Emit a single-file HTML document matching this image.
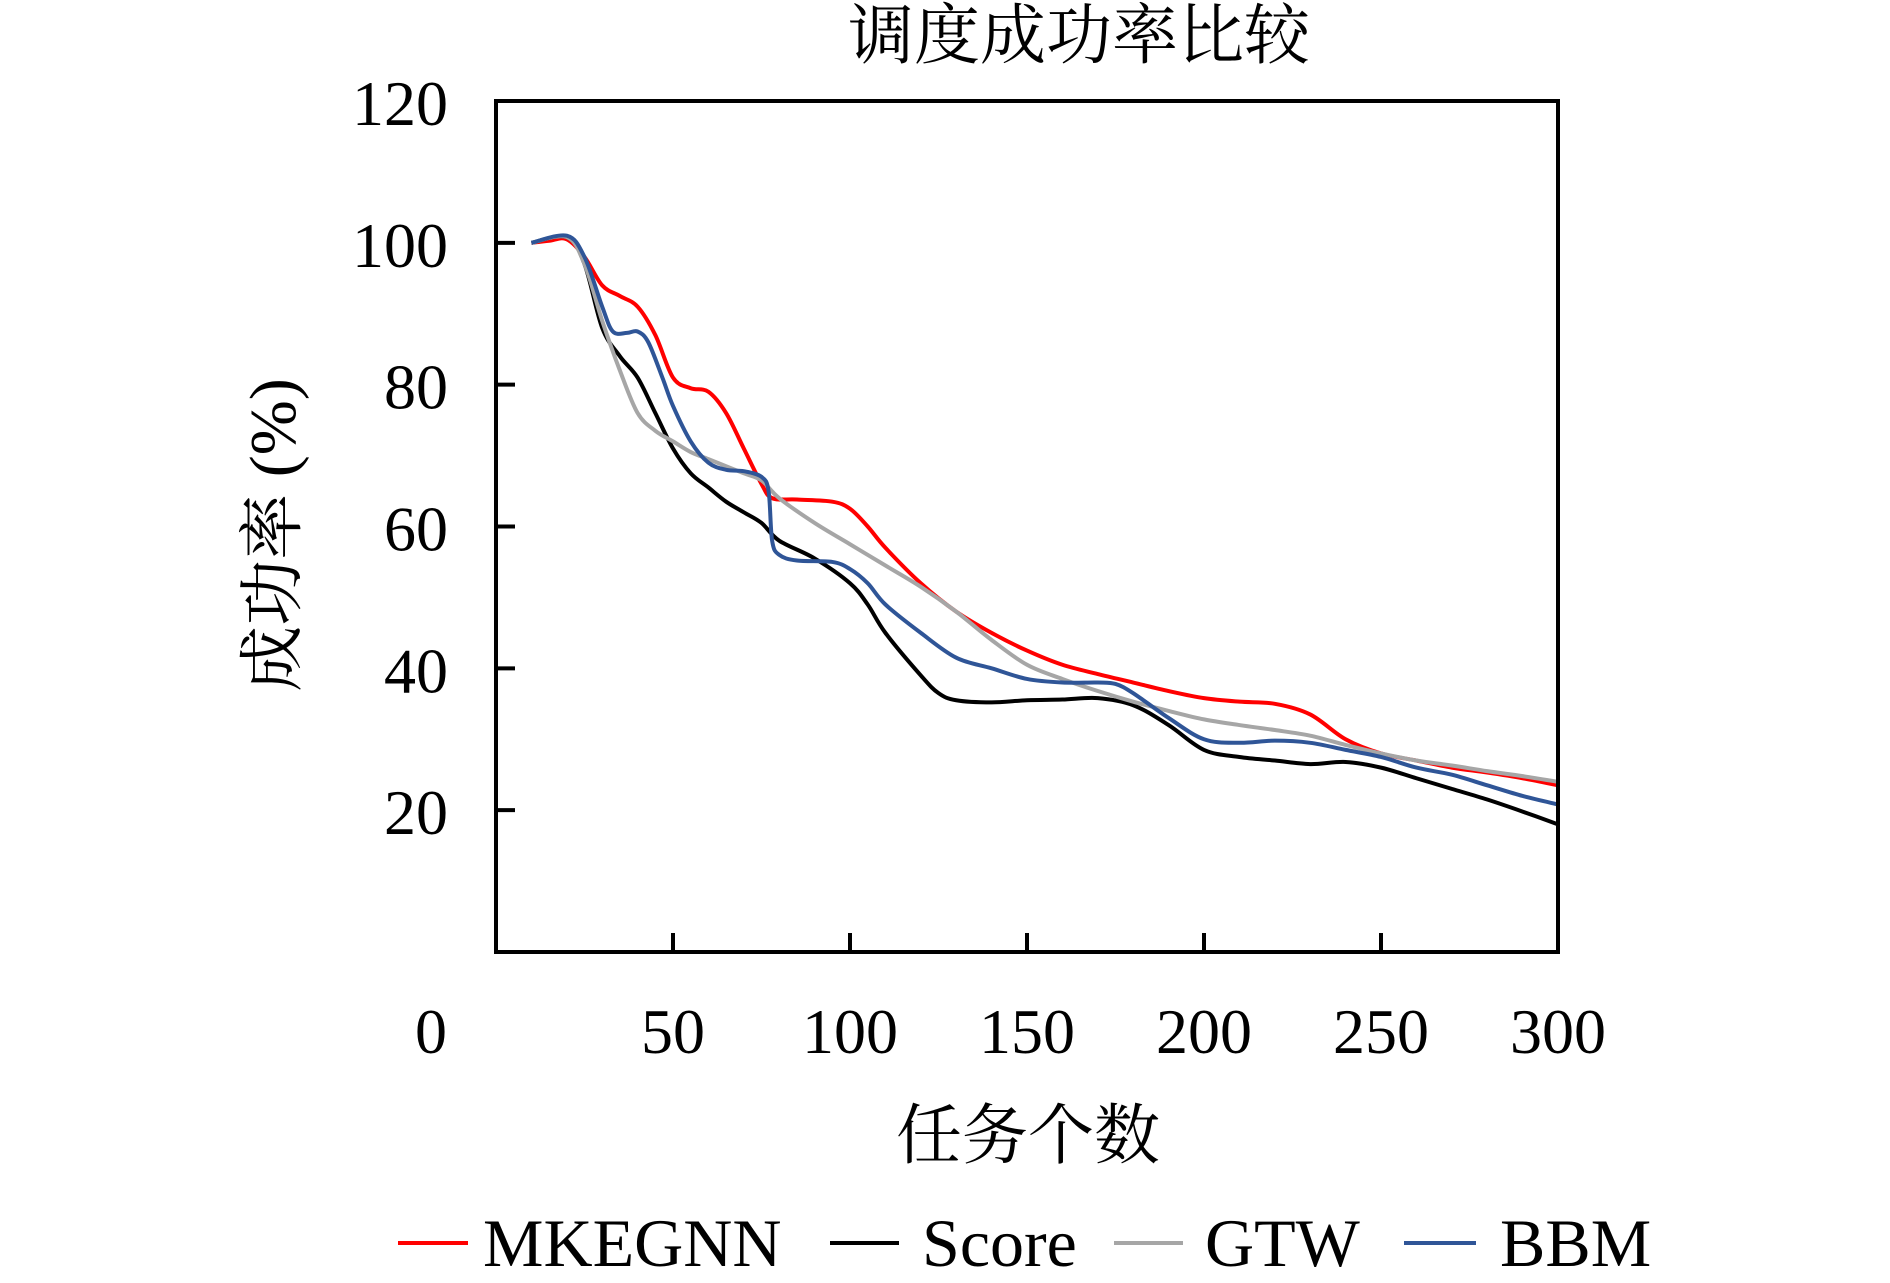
<!DOCTYPE html>
<html><head><meta charset="utf-8"><style>
html,body{margin:0;padding:0;background:#fff;}
svg{display:block;}
text{font-family:"Liberation Serif","Noto Serif CJK SC",serif;fill:#000;}
</style></head><body>
<svg id="chart" width="1890" height="1283" viewBox="0 0 1890 1283" xmlns="http://www.w3.org/2000/svg">
<text x="1079" y="58" font-size="66" text-anchor="middle">调度成功率比较</text>
<text transform="translate(295,535) rotate(-90)" font-size="66" text-anchor="middle">成功率 (%)</text>
<text x="1028" y="1158" font-size="66" text-anchor="middle">任务个数</text>
<g id="ticks"></g>
<g id="series"></g>
<rect x="496" y="101" width="1062" height="851" fill="none" stroke="#000" stroke-width="4"/>
<g id="legend"></g>
</svg>
<script>
const yTicks=[20,40,60,80,100,120];
const xTicks=[0,50,100,150,200,250,300];
const seriesNames=["MKEGNN","Score","GTW","BBM"];
const seriesColors=["#ff0000","#000000","#a6a6a6","#2f5597"];
const mkX=[10,15,20,25,30,35,40,45,50,55,60,65,70,75,78,85,95,100,105,110,120,130,140,150,160,170,180,190,200,210,220,230,240,250,260,270,280,290,300];
const mkY=[100,100.3,100.5,98,94,92.5,91,87,81,79.5,79,76,71,66,64,63.8,63.5,62.5,60,57,52,48,45,42.5,40.5,39.2,38,36.8,35.8,35.3,35,33.5,30,28,27,26,25.3,24.5,23.5];
const scX=[10,20,25,30,35,40,45,50,55,60,65,70,75,80,90,100,105,110,120,125,130,140,150,160,170,180,190,200,210,220,230,240,250,260,270,280,290,300];
const scY=[100,100.8,97,88,84,81,76,71,67.5,65.5,63.5,62,60.5,58,55.5,52,49,45,39,36.5,35.5,35.2,35.5,35.6,35.8,34.8,32,28.5,27.5,27,26.5,26.8,26,24.5,23,21.5,19.8,18];
const gtX=[10,20,25,30,35,40,45,50,55,60,65,70,75,80,90,100,110,120,130,140,150,160,170,180,190,200,210,220,230,240,250,260,270,280,290,300];
const gtY=[100,100.8,97,89,82,76,73.5,72,70.5,69.5,68.5,67.5,66.5,64,60.5,57.5,54.5,51.5,48,44,40.5,38.5,36.8,35.3,34,32.8,32,31.3,30.5,29.2,28,27,26.3,25.5,24.8,24];
const bbX=[10,20,25,30,33,37,40,43,47,50,55,60,65,70,75,77,78,80,85,95,100,105,110,120,130,140,150,160,170,175,180,190,200,210,220,230,240,250,260,270,280,290,300];
const bbY=[100,101,98,91,87.5,87.3,87.5,86,81,77,72,69,68,67.8,67,65,58,56,55.2,55,54,52,49,45,41.5,40,38.5,38,38,37.8,36.5,33,30,29.5,29.8,29.5,28.5,27.5,26,25,23.5,22,20.8];
const seriesX=[mkX,scX,gtX,bbX];
const seriesY=[mkY,scY,gtY,bbY];
const NS="http://www.w3.org/2000/svg";
function sx(v){return 496+v*(1062/300);}
function sy(v){return 952-v*(851/120);}
const tg=document.getElementById('ticks');
yTicks.forEach(v=>{
  const l=document.createElementNS(NS,'line');
  
  
  l.setAttribute('x1',496);l.setAttribute('x2',515);l.setAttribute('y1',sy(v));l.setAttribute('y2',sy(v));
  l.setAttribute('stroke','#000');l.setAttribute('stroke-width','4');tg.appendChild(l);
  const t=document.createElementNS(NS,'text');
  
  
  t.setAttribute('x',448);t.setAttribute('y',sy(v)+24);t.setAttribute('font-size','64');t.setAttribute('text-anchor','end');
  t.textContent=v;tg.appendChild(t);
});
xTicks.forEach(v=>{
  if(v>0&&v<300){
  const l=document.createElementNS(NS,'line');
  
  
  l.setAttribute('x1',sx(v));l.setAttribute('x2',sx(v));l.setAttribute('y1',952);l.setAttribute('y2',933);
  l.setAttribute('stroke','#000');l.setAttribute('stroke-width','4');tg.appendChild(l);}
  const t=document.createElementNS(NS,'text');
  
  
  t.setAttribute('x',v===0?431:sx(v));t.setAttribute('y',1053);t.setAttribute('font-size','64');t.setAttribute('text-anchor','middle');
  t.textContent=v;tg.appendChild(t);
});
function pathFor(xs,ys){
  const p=xs.map((x,i)=>[sx(x),sy(ys[i])]);
  let d='M'+p[0][0]+','+p[0][1];
  for(let i=0;i<p.length-1;i++){
    const p0=p[Math.max(0,i-1)],p1=p[i],p2=p[i+1],p3=p[Math.min(p.length-1,i+2)];
    const c1x=p1[0]+(p2[0]-p0[0])/6,c1y=p1[1]+(p2[1]-p0[1])/6;
    const c2x=p2[0]-(p3[0]-p1[0])/6,c2y=p2[1]-(p3[1]-p1[1])/6;
    d+=' C'+c1x+','+c1y+' '+c2x+','+c2y+' '+p2[0]+','+p2[1];
  }
  return d;
}
const sg=document.getElementById('series');
[0,1,2,3].forEach(i=>{
  const p=document.createElementNS(NS,'path');
  
  
  p.setAttribute('d',pathFor(seriesX[i],seriesY[i]));
  p.setAttribute('fill','none');p.setAttribute('stroke',seriesColors[i]);p.setAttribute('stroke-width','4');
  sg.appendChild(p);
});
const lg=document.getElementById('legend');
const legLine=[[398,468,483],[830,899,922],[1114,1183,1205],[1404,1476,1500]];
seriesNames.forEach((n,i)=>{
  const l=document.createElementNS(NS,'line');
  
  
  l.setAttribute('x1',legLine[i][0]);l.setAttribute('x2',legLine[i][1]);l.setAttribute('y1',1243);l.setAttribute('y2',1243);
  l.setAttribute('stroke',seriesColors[i]);l.setAttribute('stroke-width','4');lg.appendChild(l);
  const t=document.createElementNS(NS,'text');
  
  
  t.setAttribute('x',legLine[i][2]);t.setAttribute('y',1266);t.setAttribute('font-size','68');
  t.textContent=n;lg.appendChild(t);
});
</script>
</body></html>
